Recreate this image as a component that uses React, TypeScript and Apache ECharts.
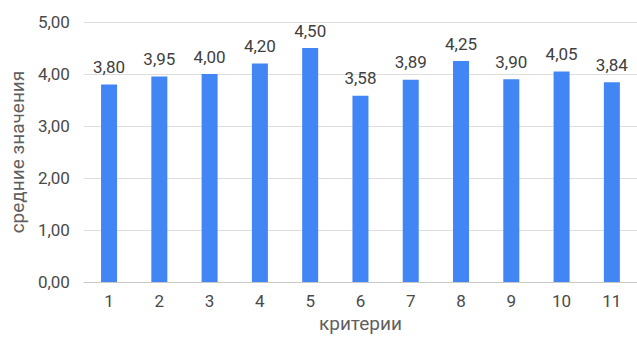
import React, { useEffect, useRef } from "react";
import * as echarts from "echarts";

const categories = ["1", "2", "3", "4", "5", "6", "7", "8", "9", "10", "11"];
const meanValues = [3.8, 3.95, 4.0, 4.2, 4.5, 3.58, 3.89, 4.25, 3.9, 4.05, 3.84];
const yTicks = { min: 0, max: 5, interval: 1 };

const fmt = (v: number) => v.toFixed(2).replace(".", ",");

export default function App() {
  const ref = useRef<HTMLDivElement>(null);

  useEffect(() => {
    if (!ref.current) return;
    const chart = echarts.init(ref.current, null, { renderer: "svg" });
    const font = "Roboto, Arial, sans-serif";
    chart.setOption({
      animation: false,
      backgroundColor: "#ffffff",
      textStyle: { fontFamily: font },
      grid: { left: 80, right: -8, top: 22, bottom: 55 },
      xAxis: {
        type: "category",
        data: categories,
        name: "критерии",
        nameLocation: "middle",
        nameGap: 31,
        nameTextStyle: { color: "#5f5f5f", fontSize: 19, fontFamily: font },
        axisLine: { lineStyle: { color: "#c8c8c8", width: 1 } },
        axisTick: { show: false },
        axisLabel: { color: "#4a4a4a", fontSize: 17, margin: 10, fontFamily: font },
      },
      yAxis: {
        type: "value",
        min: yTicks.min,
        max: yTicks.max,
        interval: yTicks.interval,
        name: "средние значения",
        nameLocation: "middle",
        nameGap: 52,
        nameTextStyle: { color: "#5f5f5f", fontSize: 19, fontFamily: font },
        axisLine: { show: false },
        axisTick: { show: false },
        axisLabel: {
          color: "#4a4a4a",
          fontSize: 17,
          margin: 14,
          fontFamily: font,
          formatter: (v: number) => fmt(v),
        },
        splitLine: { lineStyle: { color: "#dddddd", width: 1 } },
      },
      series: [
        {
          type: "bar",
          data: meanValues,
          barWidth: 16,
          itemStyle: { color: "#4285f4" },
          label: {
            show: true,
            position: "top",
            distance: 9,
            color: "#404040",
            fontSize: 17,
            fontFamily: font,
            formatter: (p: any) => fmt(p.value),
          },
        },
      ],
    });
    return () => chart.dispose();
  }, []);

  return (
    <div
      ref={ref}
      style={{ position: "fixed", left: 0, top: 0, width: 637, height: 338 }}
    />
  );
}
